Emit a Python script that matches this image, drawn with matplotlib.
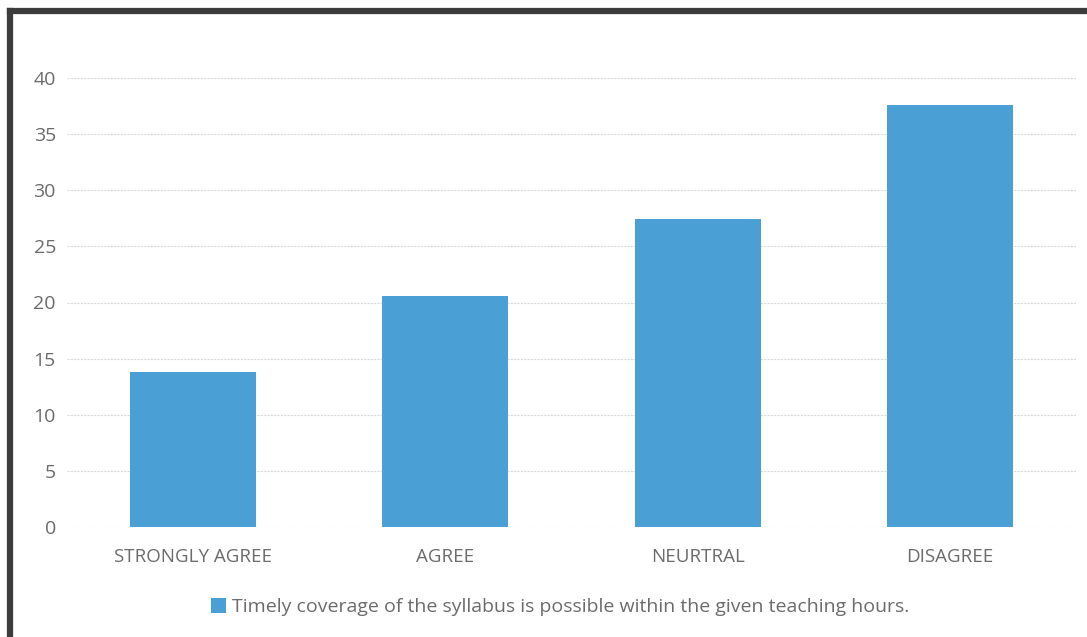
import matplotlib.pyplot as plt
from matplotlib.lines import Line2D
import matplotlib as mpl

mpl.rcParams['font.family'] = ['Open Sans', 'DejaVu Sans']

categories = ['STRONGLY AGREE', 'AGREE', 'NEURTRAL', 'DISAGREE']
values = [13.8, 20.6, 27.4, 37.6]
series_label = 'Timely coverage of the syllabus is possible within the given teaching hours.'
y_ticks = [0, 5, 10, 15, 20, 25, 30, 35, 40]

bar_colour = '#4a9fd4'
text_colour = '#6b6b6b'

fig = plt.figure(figsize=(10.87, 6.37), dpi=100)
ax = fig.add_axes([67 / 1087, 1 - 527 / 637, (1076 - 67) / 1087, (527 - 78) / 637])

x = range(len(categories))
ax.bar(x, values, width=0.5, color=bar_colour, label=series_label, zorder=2)

ax.set_xlim(-0.5, len(categories) - 0.5)
ax.set_ylim(0, 40)
ax.set_yticks(y_ticks)
ax.set_xticks(list(x))
ax.set_xticklabels(categories)
ax.tick_params(axis='both', length=0, colors=text_colour, labelsize=13.5)
ax.tick_params(axis='x', pad=15)
ax.tick_params(axis='y', pad=8)
for lbl in ax.get_yticklabels():
    lbl.set_fontsize(14)

ax.grid(axis='y', color='#dadada', linewidth=0.8, linestyle=(0, (2, 1)), zorder=0)
for side in ['top', 'right', 'left', 'bottom']:
    ax.spines[side].set_visible(False)

leg = fig.legend(loc='center', bbox_to_anchor=(560 / 1087, 1 - 607 / 637), frameon=False,
                 fontsize=14, handlelength=0.8, handleheight=0.8, handletextpad=0.3)
for t in leg.get_texts():
    t.set_color(text_colour)

# scanned page border (top and left)
fig.add_artist(Line2D([10 / 1087, 1], [1 - 11 / 637, 1 - 11 / 637], color='#3c3c3c', linewidth=4.5))
fig.add_artist(Line2D([10 / 1087, 10 / 1087], [0, 1 - 11 / 637], color='#3c3c3c', linewidth=4.5))

fig.savefig('out.png', dpi=100)
